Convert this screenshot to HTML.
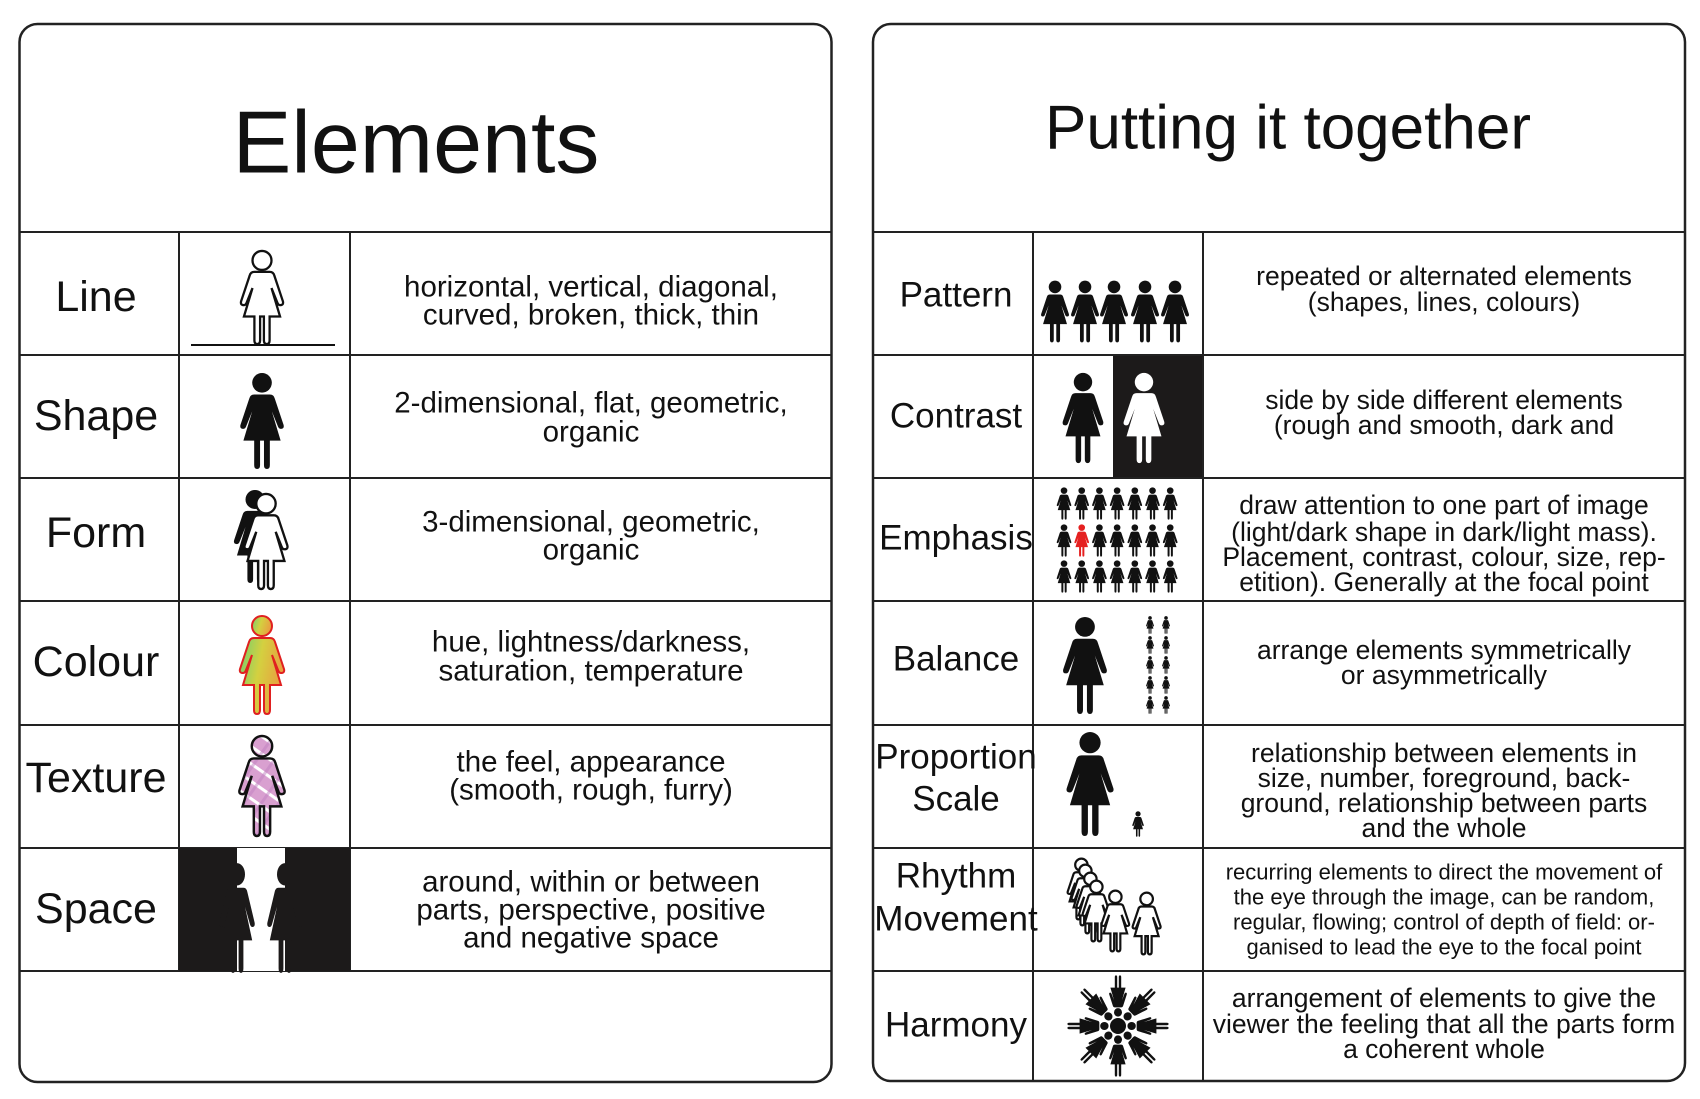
<!DOCTYPE html>
<html><head><meta charset="utf-8"><style>
html,body{margin:0;padding:0;background:#fff;}
svg{display:block;}
text{font-family:"Liberation Sans",Arial,sans-serif;fill:#111;}
</style></head><body>
<svg width="1700" height="1099" viewBox="0 0 1700 1099" xmlns="http://www.w3.org/2000/svg">
<defs>
<g id="w">
<circle cx="24" cy="11" r="10"/>
<path d="M16 23 L32 23 Q36 23 37 27 L46 54 Q47 58 43 58 Q41 58 40 55 L34 40 L43 70 L32 70 L32 95 Q32 99 29 99 Q26 99 26 95 L26 70 L22 70 L22 95 Q22 99 19 99 Q16 99 16 95 L16 70 L5 70 L14 40 L8 55 Q7 58 5 58 Q1 58 2 54 L11 27 Q12 23 16 23 Z"/>
</g>
<linearGradient id="cg" x1="0" y1="0" x2="1" y2="0.3">
<stop offset="0" stop-color="#6fd070"/><stop offset="0.5" stop-color="#d4d040"/><stop offset="1" stop-color="#e8a040"/>
</linearGradient>
<pattern id="tp" width="14" height="14" patternUnits="userSpaceOnUse" patternTransform="rotate(35)">
<rect width="14" height="14" fill="#d9a0d0"/><rect width="14" height="3" fill="#fff"/><rect width="3" height="14" fill="#c080c0" opacity="0.5"/>
</pattern>
</defs>

<!-- Left panel -->
<rect x="19.5" y="24" width="812" height="1058" rx="18" fill="#fff" stroke="#222" stroke-width="2.5"/>
<g stroke="#222" stroke-width="2">
<line x1="19.5" y1="232" x2="831.5" y2="232"/>
<line x1="19.5" y1="355" x2="831.5" y2="355"/>
<line x1="19.5" y1="478" x2="831.5" y2="478"/>
<line x1="19.5" y1="601" x2="831.5" y2="601"/>
<line x1="19.5" y1="725" x2="831.5" y2="725"/>
<line x1="19.5" y1="848" x2="831.5" y2="848"/>
<line x1="19.5" y1="971" x2="831.5" y2="971"/>
<line x1="179" y1="232" x2="179" y2="971"/>
<line x1="350" y1="232" x2="350" y2="971"/>
</g>
<text x="416" y="142" font-size="88" text-anchor="middle" dominant-baseline="central">Elements</text>

<g font-size="43" text-anchor="middle" dominant-baseline="central">
<text x="96" y="297">Line</text>
<text x="96" y="416">Shape</text>
<text x="96" y="533">Form</text>
<text x="96" y="662">Colour</text>
<text x="96" y="778">Texture</text>
<text x="96" y="909">Space</text>
</g>
<g font-size="29.5" text-anchor="middle" dominant-baseline="central">
<text x="591" y="287">horizontal, vertical, diagonal,</text>
<text x="591" y="315">curved, broken, thick, thin</text>
<text x="591" y="403">2-dimensional, flat, geometric,</text>
<text x="591" y="432">organic</text>
<text x="591" y="522">3-dimensional, geometric,</text>
<text x="591" y="550">organic</text>
<text x="591" y="642">hue, lightness/darkness,</text>
<text x="591" y="671">saturation, temperature</text>
<text x="591" y="762">the feel, appearance</text>
<text x="591" y="790">(smooth, rough, furry)</text>
<text x="591" y="882">around, within or between</text>
<text x="591" y="910">parts, perspective, positive</text>
<text x="591" y="938">and negative space</text>
</g>

<!-- left icons -->
<use href="#w" transform="translate(239.2,250) scale(0.95)" fill="#fff" stroke="#111" stroke-width="2.4"/>
<line x1="191" y1="345" x2="335" y2="345" stroke="#111" stroke-width="2"/>
<use href="#w" transform="translate(238.5,372) scale(0.98)" fill="#111"/>
<use href="#w" transform="translate(232.2,489) scale(0.95)" fill="#111"/>
<use href="#w" transform="translate(242.7,493) scale(0.97)" fill="#fff" stroke="#111" stroke-width="2.4"/>
<use href="#w" transform="translate(238,615) scale(1)" fill="url(#cg)" stroke="#e02020" stroke-width="2"/>
<use href="#w" transform="translate(237.5,735) scale(1.02)" fill="url(#tp)" stroke="#111" stroke-width="2.4"/>
<rect x="179" y="848" width="171" height="123" fill="#1c1a1a"/>
<rect x="237" y="848" width="48" height="123" fill="#fff"/>
<use href="#w" transform="translate(217.8,862) scale(0.8,1.12)" fill="#1c1a1a"/>
<use href="#w" transform="translate(265.8,862) scale(0.8,1.12)" fill="#1c1a1a"/>

<!-- Right panel -->
<rect x="873" y="24" width="812" height="1057" rx="18" fill="#fff" stroke="#222" stroke-width="2.5"/>
<rect x="1113" y="355" width="90" height="123" fill="#1c1a1a"/>
<g stroke="#222" stroke-width="2">
<line x1="873" y1="232" x2="1685" y2="232"/>
<line x1="873" y1="355" x2="1685" y2="355"/>
<line x1="873" y1="478" x2="1685" y2="478"/>
<line x1="873" y1="601" x2="1685" y2="601"/>
<line x1="873" y1="725" x2="1685" y2="725"/>
<line x1="873" y1="848" x2="1685" y2="848"/>
<line x1="873" y1="971" x2="1685" y2="971"/>
<line x1="1033" y1="232" x2="1033" y2="1081"/>
<line x1="1203" y1="232" x2="1203" y2="1081"/>
</g>
<text x="1288" y="128" font-size="62" text-anchor="middle" dominant-baseline="central">Putting it together</text>

<g font-size="35" text-anchor="middle" dominant-baseline="central">
<text x="956" y="295">Pattern</text>
<text x="956" y="416">Contrast</text>
<text x="956" y="538">Emphasis</text>
<text x="956" y="659">Balance</text>
<text x="956" y="757">Proportion</text>
<text x="956" y="799">Scale</text>
<text x="956" y="876">Rhythm</text>
<text x="956" y="919">Movement</text>
<text x="956" y="1025">Harmony</text>
</g>
<g font-size="26.5" text-anchor="middle" dominant-baseline="central">
<text x="1444" y="276">repeated or alternated elements</text>
<text x="1444" y="302">(shapes, lines, colours)</text>
<text x="1444" y="400">side by side different elements</text>
<text x="1444" y="425">(rough and smooth, dark and</text>
<text x="1444" y="505">draw attention to one part of image</text>
<text x="1444" y="532">(light/dark shape in dark/light mass).</text>
<text x="1444" y="557">Placement, contrast, colour, size, rep-</text>
<text x="1444" y="582">etition).  Generally at the focal point</text>
<text x="1444" y="650">arrange elements symmetrically</text>
<text x="1444" y="675">or asymmetrically</text>
<text x="1444" y="753">relationship between elements in</text>
<text x="1444" y="778">size, number, foreground, back-</text>
<text x="1444" y="803">ground, relationship between parts</text>
<text x="1444" y="828">and the whole</text>
<text x="1444" y="998">arrangement of elements to give the</text>
<text x="1444" y="1024">viewer the feeling that all the parts form</text>
<text x="1444" y="1049">a coherent whole</text>
</g>
<g font-size="22" text-anchor="middle" dominant-baseline="central">
<text x="1444" y="872">recurring elements to direct the movement of</text>
<text x="1444" y="897">the eye through the image,  can be random,</text>
<text x="1444" y="922">regular, flowing;  control of depth of field: or-</text>
<text x="1444" y="947">ganised to lead the eye to the focal point</text>
</g>

<!-- right icons -->
<g fill="#111">
<use href="#w" transform="translate(1039.9,280) scale(0.63)"/>
<use href="#w" transform="translate(1069.9,280) scale(0.63)"/>
<use href="#w" transform="translate(1098.9,280) scale(0.63)"/>
<use href="#w" transform="translate(1129.9,280) scale(0.63)"/>
<use href="#w" transform="translate(1159.9,280) scale(0.63)"/>
<use href="#w" transform="translate(1060.9,372) scale(0.92)"/>
</g>
<use href="#w" transform="translate(1121.9,372) scale(0.92)" fill="#fff"/>
<g fill="#111">
<use href="#w" transform="translate(1056.1,487) scale(0.33)"/><use href="#w" transform="translate(1073.8,487) scale(0.33)"/><use href="#w" transform="translate(1091.5,487) scale(0.33)"/><use href="#w" transform="translate(1109.2,487) scale(0.33)"/><use href="#w" transform="translate(1126.9,487) scale(0.33)"/><use href="#w" transform="translate(1144.6,487) scale(0.33)"/><use href="#w" transform="translate(1162.3,487) scale(0.33)"/>
<use href="#w" transform="translate(1056.1,524) scale(0.33)"/><use href="#w" transform="translate(1073.8,524) scale(0.33)" fill="#e52020"/><use href="#w" transform="translate(1091.5,524) scale(0.33)"/><use href="#w" transform="translate(1109.2,524) scale(0.33)"/><use href="#w" transform="translate(1126.9,524) scale(0.33)"/><use href="#w" transform="translate(1144.6,524) scale(0.33)"/><use href="#w" transform="translate(1162.3,524) scale(0.33)"/>
<use href="#w" transform="translate(1056.1,560) scale(0.33)"/><use href="#w" transform="translate(1073.8,560) scale(0.33)"/><use href="#w" transform="translate(1091.5,560) scale(0.33)"/><use href="#w" transform="translate(1109.2,560) scale(0.33)"/><use href="#w" transform="translate(1126.9,560) scale(0.33)"/><use href="#w" transform="translate(1144.6,560) scale(0.33)"/><use href="#w" transform="translate(1162.3,560) scale(0.33)"/>
<!-- balance -->
<use href="#w" transform="translate(1061.2,616) scale(0.99)"/>
<use href="#w" transform="translate(1145.7,616) scale(0.18)"/><use href="#w" transform="translate(1161.7,616) scale(0.18)"/>
<use href="#w" transform="translate(1145.7,636) scale(0.18)"/><use href="#w" transform="translate(1161.7,636) scale(0.18)"/>
<use href="#w" transform="translate(1145.7,656) scale(0.18)"/><use href="#w" transform="translate(1161.7,656) scale(0.18)"/>
<use href="#w" transform="translate(1145.7,676) scale(0.18)"/><use href="#w" transform="translate(1161.7,676) scale(0.18)"/>
<use href="#w" transform="translate(1145.7,696) scale(0.18)"/><use href="#w" transform="translate(1161.7,696) scale(0.18)"/>
<!-- proportion -->
<use href="#w" transform="translate(1064.6,731) scale(1.06)"/>
<use href="#w" transform="translate(1131.8,811) scale(0.26)"/>
</g>
<!-- rhythm -->
<g fill="#fff" stroke="#111" stroke-width="3.5">
<use href="#w" transform="translate(1066.5,858) scale(0.62)"/>
<use href="#w" transform="translate(1070.5,864) scale(0.62)"/>
<use href="#w" transform="translate(1075.5,872) scale(0.62)"/>
<use href="#w" transform="translate(1081.5,880) scale(0.62)"/>
<use href="#w" transform="translate(1100.5,890) scale(0.62)"/>
<use href="#w" transform="translate(1131.5,892) scale(0.63)"/>
</g>
<!-- harmony -->
<g fill="#111">
<circle cx="1118" cy="1026" r="8"/>
<g id="hf"><use href="#w" transform="translate(1108.4,1035) scale(0.4,0.42)"/></g>
<use href="#hf" transform="rotate(45 1118 1026)"/>
<use href="#hf" transform="rotate(90 1118 1026)"/>
<use href="#hf" transform="rotate(135 1118 1026)"/>
<use href="#hf" transform="rotate(180 1118 1026)"/>
<use href="#hf" transform="rotate(225 1118 1026)"/>
<use href="#hf" transform="rotate(270 1118 1026)"/>
<use href="#hf" transform="rotate(315 1118 1026)"/>
</g>
</svg>
</body></html>
